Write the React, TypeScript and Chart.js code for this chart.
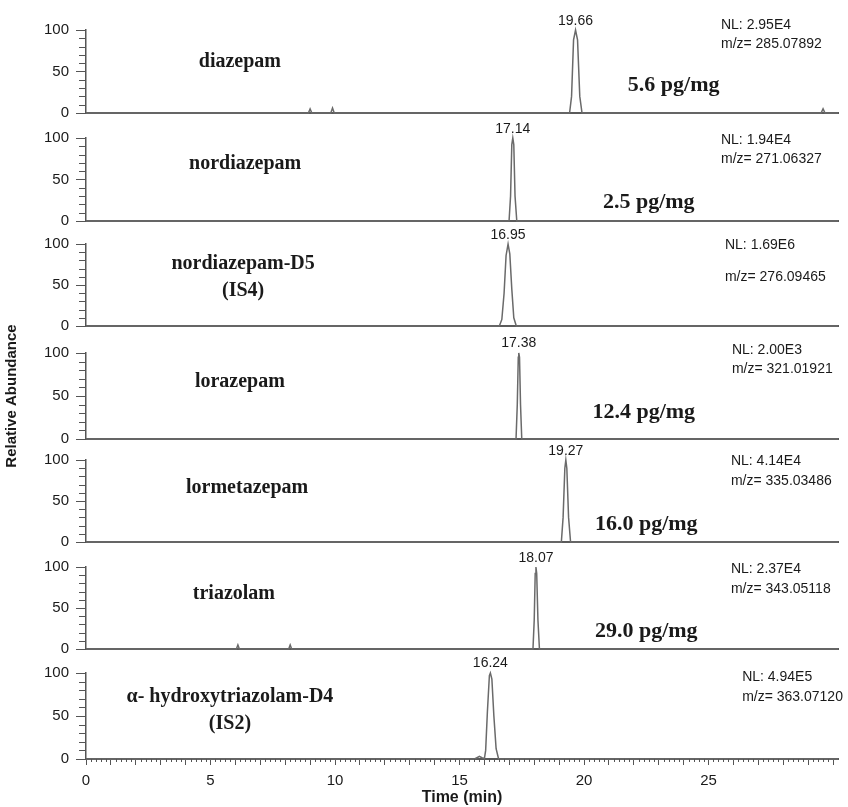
import React, { useEffect, useRef } from 'react';
import { Chart, registerables } from 'chart.js';

Chart.register(...registerables);

// ---------------- data ----------------
const X_MIN = 0;
const X_MAX = 30.2;
const xTickLabels = [0, 5, 10, 15, 20, 25];
const yTickLabels = [0, 50, 100];

const nameLines = [
  ['diazepam'],
  ['nordiazepam'],
  ['nordiazepam-D5', '(IS4)'],
  ['lorazepam'],
  ['lormetazepam'],
  ['triazolam'],
  ['α- hydroxytriazolam-D4', '(IS2)'],
];
const peakTimes = [19.66, 17.14, 16.95, 17.38, 19.27, 18.07, 16.24];
const nlLabels = ['NL: 2.95E4', 'NL: 1.94E4', 'NL: 1.69E6', 'NL: 2.00E3', 'NL: 4.14E4', 'NL: 2.37E4', 'NL: 4.94E5'];
const mzLabels = ['m/z= 285.07892', 'm/z= 271.06327', 'm/z= 276.09465', 'm/z= 321.01921', 'm/z= 335.03486', 'm/z= 343.05118', 'm/z= 363.07120'];
const concLabels = ['5.6 pg/mg', '2.5 pg/mg', '', '12.4 pg/mg', '16.0 pg/mg', '29.0 pg/mg', ''];

// traces: [time (min), relative abundance (%)]
const diazepamTrace = [
  [0, 0], [8.93, 0], [9.0, 5], [9.07, 0], [9.83, 0], [9.9, 6], [9.97, 0],
  [19.42, 0], [19.5, 20], [19.58, 88], [19.66, 100], [19.74, 88], [19.83, 20], [19.92, 0],
  [29.52, 0], [29.6, 5], [29.68, 0], [30.2, 0],
];
const nordiazepamTrace = [
  [0, 0], [16.99, 0], [17.05, 30], [17.1, 92], [17.14, 100], [17.18, 92], [17.23, 30], [17.3, 0], [30.2, 0],
];
const nordiazepamD5Trace = [
  [0, 0], [16.6, 0], [16.7, 8], [16.79, 40], [16.87, 86], [16.95, 100], [17.02, 88], [17.1, 45], [17.18, 10], [17.28, 0], [30.2, 0],
];
const lorazepamTrace = [
  [0, 0], [17.27, 0], [17.32, 40], [17.36, 95], [17.38, 100], [17.41, 95], [17.45, 40], [17.5, 0], [30.2, 0],
];
const lormetazepamTrace = [
  [0, 0], [19.09, 0], [19.16, 30], [19.23, 90], [19.27, 100], [19.31, 90], [19.38, 30], [19.46, 0], [30.2, 0],
];
const triazolamTrace = [
  [0, 0], [6.04, 0], [6.1, 5], [6.16, 0], [8.14, 0], [8.2, 5], [8.26, 0],
  [17.95, 0], [18.0, 35], [18.04, 92], [18.07, 100], [18.1, 92], [18.15, 35], [18.21, 0], [30.2, 0],
];
const hydroxytriazolamD4Trace = [
  [0, 0], [15.6, 0], [15.7, 1.5], [15.8, 3], [15.9, 1.5], [16.0, 0.5], [16.05, 10], [16.12, 55], [16.2, 97],
  [16.24, 100], [16.3, 93], [16.38, 50], [16.47, 12], [16.57, 0], [30.2, 0],
];
const traces = [
  diazepamTrace, nordiazepamTrace, nordiazepamD5Trace, lorazepamTrace,
  lormetazepamTrace, triazolamTrace, hydroxytriazolamD4Trace,
];

// ---------------- layout (pixels / anchors) ----------------
const PANEL_Y100 = [30, 138, 244, 353, 460, 567, 673];
const PANEL_Y0 = [117, 225, 330, 439, 546, 653, 759];
const CANVAS_W = 848;
const Y_AXIS_W = 86;
const RIGHT_PAD = 10;

// annotation anchors in data units (minutes, %)
const nameX = [6.18, 6.39, 6.31, 6.18, 6.47, 5.94, 5.78];
const nameY = [[62], [69], [76, 43], [67], [66], [67], [72, 41]];
const concX = [23.6, 22.6, 0, 22.4, 22.5, 22.5, 0];
const concY = [33, 23, 0, 31, 21, 22, 0];
const infoX = [25.5, 25.5, 25.66, 25.94, 25.9, 25.9, 26.35];
const nlY = [106, 98, 99, 103, 98, 97, 95];
const mzY = [83, 74, 59, 81, 74, 73, 72];
const PEAK_LABEL_Y = 111;

const SANS = '"Liberation Sans", Arial, Helvetica, sans-serif';
const SERIF = '"Liberation Serif", "Times New Roman", Times, serif';
const AXIS_COLOR = '#555';
const TEXT_COLOR = '#1a1a1a';

function Panel({ idx }: { idx: number }) {
  const ref = useRef<HTMLCanvasElement | null>(null);
  const isLast = idx === traces.length - 1;
  const padTop = Math.min(32, PANEL_Y100[idx]);
  const padBottom = isLast ? 0 : idx === 3 ? 45 : 12;
  const xAxisH = isLast ? 48 : 0;
  const top = PANEL_Y100[idx] - padTop;
  const height = padTop + (PANEL_Y0[idx] - PANEL_Y100[idx]) + xAxisH + padBottom;

  useEffect(() => {
    if (!ref.current) return;
    const annot = {
      id: 'annot' + idx,
      afterDraw(chart: any) {
        const ctx = chart.ctx;
        const xs = chart.scales.x;
        const ys = chart.scales.y;
        ctx.save();
        // minor y ticks
        ctx.strokeStyle = AXIS_COLOR;
        ctx.lineWidth = 1;
        for (let v = 10; v < 100; v += 10) {
          if (v === 50) continue;
          const py = Math.round(ys.getPixelForValue(v)) + 0.5;
          ctx.beginPath();
          ctx.moveTo(ys.right - 7, py);
          ctx.lineTo(ys.right, py);
          ctx.stroke();
        }
        // minor x ticks on bottom panel
        if (isLast) {
          for (let k = 0; k <= 151; k++) {
            const v = k * 0.2;
            if (k % 5 === 0 || v > X_MAX) continue;
            const px = Math.round(xs.getPixelForValue(v)) + 0.5;
            ctx.beginPath();
            ctx.moveTo(px, xs.top);
            ctx.lineTo(px, xs.top + 3);
            ctx.stroke();
          }
        }
        ctx.fillStyle = TEXT_COLOR;
        ctx.textBaseline = 'middle';
        // peak label
        ctx.font = '14px ' + SANS;
        ctx.textAlign = 'center';
        ctx.fillText(peakTimes[idx].toFixed(2), xs.getPixelForValue(peakTimes[idx]), ys.getPixelForValue(PEAK_LABEL_Y));
        // compound name
        ctx.font = 'bold 20px ' + SERIF;
        nameLines[idx].forEach((line, i) => {
          ctx.fillText(line, xs.getPixelForValue(nameX[idx]), ys.getPixelForValue(nameY[idx][i]));
        });
        // concentration
        if (concLabels[idx]) {
          ctx.font = 'bold 22px ' + SERIF;
          ctx.fillText(concLabels[idx], xs.getPixelForValue(concX[idx]), ys.getPixelForValue(concY[idx]));
        }
        // NL / m/z
        ctx.font = '14px ' + SANS;
        ctx.textAlign = 'left';
        ctx.fillText(nlLabels[idx], xs.getPixelForValue(infoX[idx]), ys.getPixelForValue(nlY[idx]));
        ctx.fillText(mzLabels[idx], xs.getPixelForValue(infoX[idx]), ys.getPixelForValue(mzY[idx]));
        ctx.restore();
      },
    };

    const chart = new Chart(ref.current, {
      type: 'line',
      data: {
        datasets: [
          {
            data: traces[idx].map(([x, y]) => ({ x, y })),
            borderColor: '#6a6a6a',
            borderWidth: 1.5,
            pointRadius: 0,
            tension: 0,
            fill: false,
            clip: false,
          } as any,
        ],
      },
      options: {
        responsive: false,
        animation: false,
        events: [],
        layout: { padding: { top: padTop, bottom: padBottom, left: 0, right: RIGHT_PAD } },
        plugins: { legend: { display: false }, tooltip: { enabled: false } },
        scales: {
          x: {
            type: 'linear',
            min: X_MIN,
            max: X_MAX,
            afterFit: (s: any) => {
              s.height = xAxisH;
            },
            afterBuildTicks: (s: any) => {
              const t: any[] = [];
              if (isLast) for (let v = 0; v <= 30; v++) t.push({ value: v });
              s.ticks = t;
            },
            grid: {
              display: isLast,
              drawOnChartArea: false,
              drawTicks: true,
              tickLength: 6,
              color: AXIS_COLOR,
            },
            border: { display: true, color: '#5a5a5a', width: 2 },
            ticks: {
              display: isLast,
              autoSkip: false,
              maxRotation: 0,
              padding: 7,
              color: TEXT_COLOR,
              font: { family: SANS, size: 15 },
              callback: (v: any) => (xTickLabels.includes(Number(v)) ? String(v) : ''),
            },
            title: {
              display: isLast,
              text: 'Time (min)',
              color: TEXT_COLOR,
              font: { family: SANS, size: 16, weight: 'bold' },
              padding: { top: 0, bottom: 0 },
            },
          },
          y: {
            type: 'linear',
            min: 0,
            max: 100,
            afterFit: (s: any) => {
              s.width = Y_AXIS_W;
            },
            afterBuildTicks: (s: any) => {
              s.ticks = yTickLabels.map((v) => ({ value: v }));
            },
            grid: { drawOnChartArea: false, tickLength: 10, color: AXIS_COLOR },
            border: { display: true, color: AXIS_COLOR, width: 1.5 },
            ticks: {
              padding: 7,
              color: TEXT_COLOR,
              font: { family: SANS, size: 15 },
              callback: (v: any) => String(v),
            },
            title: {
              display: idx === 3,
              text: 'Relative Abundance',
              color: TEXT_COLOR,
              font: { family: SANS, size: 15, weight: 'bold' },
              padding: { top: 3, bottom: 0 },
            },
          },
        },
      } as any,
      plugins: [annot],
    });
    return () => chart.destroy();
  }, [idx]);

  return (
    <canvas
      ref={ref}
      width={CANVAS_W}
      height={height}
      style={{ position: 'absolute', left: 0, top, width: CANVAS_W, height, display: 'block' }}
    />
  );
}

export default function App() {
  return (
    <div
      style={{
        position: 'fixed',
        left: 0,
        top: 0,
        width: 848,
        height: 807,
        background: '#fff',
        overflow: 'hidden',
      }}
    >
      {traces.map((_, i) => (
        <Panel key={i} idx={i} />
      ))}
    </div>
  );
}
